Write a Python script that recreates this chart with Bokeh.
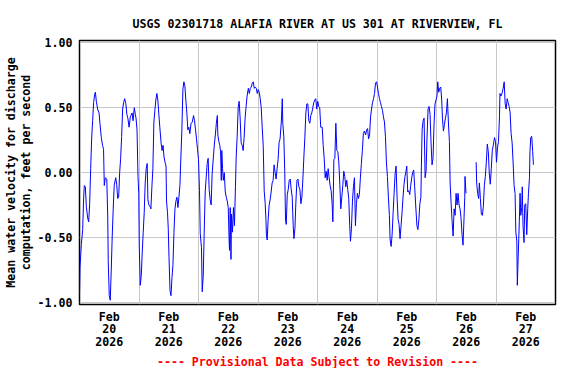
import math
from datetime import datetime, timedelta
from bokeh.plotting import figure
from bokeh.models import Range1d, FixedTicker, PrintfTickFormatter, ColumnDataSource, Title
from bokeh.embed import file_html
from bokeh.resources import INLINE

# ---------------- data ----------------
title_text = "USGS 02301718 ALAFIA RIVER AT US 301 AT RIVERVIEW, FL"
y_label = "Mean water velocity for discharge\ncomputation, feet per second"
footer_text = "---- Provisional Data Subject to Revision ----"

start_date = datetime(2026, 2, 20)
n_days = 8
day_tick_labels = ["Feb\n20\n2026", "Feb\n21\n2026", "Feb\n22\n2026", "Feb\n23\n2026",
                   "Feb\n24\n2026", "Feb\n25\n2026", "Feb\n26\n2026", "Feb\n27\n2026"]
y_ticks = [-1.0, -0.5, 0.0, 0.5, 1.0]
y_min, y_max = -1.018, 1.019

# hours since Feb 20 2026 00:00
hours = [
    0.0, 0.2, 0.74, 1.28, 1.68, 1.95, 2.35, 2.75, 3.29, 3.7, 4.1, 4.5, 4.9, 5.3, 5.7, 6.1, 6.4, 6.8,
    7.3, 7.9, 8.3, 8.8, 9.3, 9.7, 10.0, 10.4, 11.0, 11.4, 11.6, 12.0, 12.4, 12.8, 13.2, 13.6, 14.0,
    14.6, 15.0, 15.4, 15.8, 16.2, 16.6, 17.0, 17.4, 17.8, 18.2, 18.7, 19.1, 19.5, 20.0, 20.5, 21.2,
    21.6, 22.1, 22.5, 22.8, 23.2, 23.6, 23.9, 24.1, 24.5, 24.9, 25.3, 25.7, 26.1, 26.5, 26.9, 27.3,
    27.6, 28.0, 28.4, 28.8, 29.2, 29.6, 30.0, 30.4, 30.8, 31.2, 31.6, 32.0, 32.4, 32.9, 33.3, 33.7,
    34.1, 34.5, 34.9, 35.1, 35.5, 35.8, 36.1, 36.5, 36.9, 37.3, 37.7, 38.1, 38.5, 38.9, 39.3, 39.7,
    40.1, 40.5, 40.9, 41.3, 41.7, 42.1, 42.5, 42.9, 43.3, 43.7, 44.1, 44.5, 45.0, 45.5, 46.0, 46.4,
    46.8, 47.2,
    47.6, 48.0, 48.4, 48.7, 49.2, 49.5, 49.9, 50.3, 50.7, 51.1, 51.5, 51.9, 52.3, 52.7, 53.1, 53.5,
    54.0, 54.4, 54.8, 55.2, 55.6, 55.8, 56.2, 56.6, 56.9, 57.2, 57.4, 57.7, 58.0, 58.4, 58.8, 59.2,
    59.6, 60.0, 60.3, 60.5, 60.8, 61.1, 61.3, 61.7, 62.1, 62.5, 62.9, 63.2, 63.6, 64.0, 64.4, 64.8,
    65.2, 65.6, 66.0, 66.4, 66.8, 67.2, 67.6, 68.1, 68.5, 68.9, 69.3, 69.7, 70.1, 70.5, 70.9, 71.3,
    71.7, 72.1, 72.5, 72.9, 73.3, 73.7, 74.1, 74.5, 74.9, 75.2, 75.4, 75.7, 76.1, 76.5, 76.9, 77.3,
    77.7, 78.1, 78.5, 78.9, 79.3, 79.7, 80.1, 80.5, 80.9, 81.4, 81.8, 82.0, 82.4, 82.8, 83.1, 83.4,
    83.8, 84.2, 84.6, 85.0, 85.4, 85.8, 86.2, 86.5, 86.9, 87.3, 87.7, 88.1, 88.5, 88.9, 89.3, 89.7,
    90.1, 90.5, 90.9, 91.3, 91.7, 92.1, 92.5, 92.9, 93.3, 93.7, 94.1, 94.5, 94.9, 95.3,
    95.7, 96.1, 96.5, 96.9, 97.3, 97.9, 98.3, 98.7, 99.1, 99.5, 99.9, 100.3, 100.7, 101.1, 101.5,
    101.9, 102.2, 102.6, 103.0, 103.4, 103.8, 104.2, 104.6, 105.0, 105.4, 105.8, 106.2, 106.6, 107.0,
    107.4, 107.8, 108.2, 108.6, 109.0, 109.3, 109.7, 110.1, 110.5, 110.9, 111.3, 111.7, 112.1, 112.5,
    112.9, 113.3, 113.7, 114.1, 114.5, 114.9, 115.4, 115.8, 116.2, 116.6, 117.0, 117.4, 117.8, 118.2,
    118.6, 119.0, 119.4, 119.8, 120.2, 120.6, 121.0, 121.4, 121.8, 122.2, 122.6, 123.0, 123.4, 123.8,
    124.2, 124.6, 125.0, 125.3, 125.7, 126.1, 126.5, 126.9, 127.3, 127.7, 128.1, 128.5, 128.9, 129.3,
    129.7, 130.1, 130.5, 130.9, 131.3, 131.7, 132.0, 132.4, 132.8, 133.2, 133.6, 134.0, 134.4, 134.8,
    135.2, 135.6, 136.1, 136.5, 136.9, 137.3, 137.7, 137.9, 138.2, 138.6, 139.0, 139.4, 139.8, 140.2,
    140.6, 141.0, 141.4, 141.8, 142.2, 142.6, 143.0, 143.4, 143.8,
    144.2, 144.5, 144.9, 145.3, 145.7, 146.1, 146.4, 146.8, 147.2, 147.6, 148.0, 148.4, 148.8, 149.2,
    149.5, 149.9, 150.3, 150.7, 151.1, 151.5, 151.9, 152.3, 152.7, 153.1, 153.5, 153.9, 154.3, 154.7,
    155.1, 155.4, 155.5, 155.9, 157.9,
    160.0, 160.2, 160.6, 161.0, 161.3, 161.7, 162.1, 162.5, 162.9, 163.3, 163.7, 164.1, 164.5, 164.9,
    165.3, 165.7, 166.1, 166.5, 166.9, 167.4, 167.8, 168.2, 168.6, 169.0, 169.4, 169.6, 170.0, 170.4,
    170.9, 171.3, 171.7, 172.1, 172.5, 172.9, 173.3, 173.7, 174.1, 174.5, 174.9, 175.3, 175.7, 176.0,
    176.4, 176.6, 177.0, 177.4, 177.7, 178.0, 178.4, 178.6, 178.9, 179.3, 179.6, 180.0, 180.4, 180.8,
    181.1, 181.5, 181.7, 182.0, 182.4, 182.8, 183.1,
]

velocity = [
    -0.94, -0.73, -0.555, -0.44, -0.19, -0.10, -0.11, -0.26, -0.35, -0.38, -0.24, 0.03, 0.26, 0.40, 0.54, 0.60, 0.62, 0.55,
    0.49, 0.46, 0.37, 0.27, 0.21, 0.18, -0.10, -0.04, -0.05, -0.35, -0.69, -0.95, -0.985, -0.76, -0.49, -0.28, -0.10,
    -0.04, -0.09, -0.20, -0.19, 0.0, 0.11, 0.28, 0.49, 0.54, 0.57, 0.53, 0.45, 0.42, 0.35, 0.43, 0.46,
    0.40, 0.50, 0.45, 0.42, 0.33, -0.03, -0.16, -0.56, -0.87, -0.80, -0.62, -0.46, -0.31, -0.08, 0.03, 0.07,
    -0.21, -0.25, -0.26, -0.28, -0.11, 0.03, 0.39, 0.48, 0.56, 0.61, 0.56, 0.45, 0.35, 0.23, 0.17, 0.21,
    0.12, 0.08, 0.05, -0.22, -0.31, -0.43, -0.65, -0.91, -0.95, -0.81, -0.71, -0.46, -0.28, -0.22, -0.19, -0.27,
    -0.19, -0.10, 0.12, 0.33, 0.64, 0.70, 0.67, 0.56, 0.46, 0.33, 0.35, 0.30, 0.38, 0.39, 0.44, 0.40,
    0.33, 0.26,
    0.18, 0.10, -0.14, -0.47, -0.58, -0.92, -0.80, -0.46, -0.15, -0.04, 0.07, 0.11, -0.13, -0.21, -0.25, -0.01,
    0.12, 0.22, 0.29, 0.38, 0.44, 0.29, 0.24, 0.21, 0.16, -0.06, 0.17, 0.03, -0.06, 0.0, -0.15, -0.19,
    -0.22, -0.27, -0.49, -0.60, -0.27, -0.67, -0.32, -0.46, -0.27, -0.41, -0.11, 0.12, 0.28, 0.50, 0.55, 0.42,
    0.23, 0.21, 0.17, 0.27, 0.42, 0.51, 0.59, 0.65, 0.61, 0.65, 0.66, 0.69, 0.70, 0.65, 0.66, 0.65,
    0.61, 0.64, 0.62, 0.57, 0.50, 0.35, 0.21, -0.14, -0.24, -0.36, -0.48, -0.52, -0.36, -0.25, -0.21, -0.15,
    -0.08, -0.06, 0.06, 0.0, -0.05, 0.03, 0.10, 0.23, 0.26, 0.39, 0.57, 0.38, 0.28, 0.0, -0.37, -0.40,
    -0.17, -0.13, -0.06, -0.05, -0.13, -0.19, -0.41, -0.51, -0.43, -0.22, -0.06, -0.05, -0.11, -0.13, -0.24, -0.19,
    -0.05, 0.12, 0.27, 0.46, 0.53, 0.53, 0.40, 0.38, 0.44, 0.46, 0.50, 0.54, 0.56, 0.57,
    0.49, 0.55, 0.51, 0.50, 0.35, 0.35, 0.21, 0.11, -0.04, 0.01, -0.06, 0.03, -0.04, -0.10, -0.14,
    -0.24, -0.38, 0.10, 0.11, 0.38, 0.17, 0.16, 0.08, -0.09, -0.28, -0.19, -0.10, 0.01, -0.03,
    -0.11, -0.06, -0.13, -0.20, -0.41, -0.53, -0.43, -0.22, -0.11, -0.04, -0.41, -0.24, -0.16, -0.20,
    -0.17, -0.04, 0.07, 0.17, 0.30, 0.32, 0.29, 0.33, 0.34, 0.26, 0.29, 0.43, 0.49, 0.54,
    0.57, 0.61, 0.69, 0.70, 0.66, 0.61, 0.57, 0.54, 0.51, 0.48, 0.43, 0.39, 0.28, 0.08,
    -0.03, -0.19, -0.33, -0.52, -0.57, -0.48, -0.31, -0.16, -0.01, 0.05, -0.19, -0.36, -0.40, -0.51,
    -0.41, -0.31, -0.19, -0.09, -0.03, 0.01, 0.05, -0.15, -0.14, -0.17, -0.10, -0.04, 0.0, 0.02,
    -0.11, -0.25, -0.41, -0.44, -0.36, -0.24, -0.19, 0.05, 0.33, 0.40, 0.42, -0.04, 0.01, 0.29,
    0.49, 0.51, 0.45, 0.23, 0.06, 0.11, 0.37, 0.53, 0.56,
    0.59, 0.70, 0.62, 0.65, 0.66, 0.56, 0.42, 0.32, 0.37, 0.42, 0.46, 0.57, 0.39, 0.24,
    -0.08, -0.24, -0.38, -0.49, -0.28, -0.33, -0.16, -0.25, -0.16, -0.25, -0.28, -0.35, -0.48, -0.56,
    -0.35, -0.19, -0.03, -0.16, float("nan"),
    0.08, -0.08, -0.16, -0.20, -0.08, -0.20, -0.32, -0.33, -0.26, -0.10, -0.03, 0.08, 0.22, 0.16,
    -0.01, -0.09, 0.03, 0.17, 0.21, 0.27, 0.24, 0.08, 0.19, 0.24, 0.43, 0.61, 0.59, 0.61,
    0.65, 0.70, 0.53, 0.49, 0.57, 0.54, 0.51, 0.46, 0.30, 0.23, 0.08, -0.10, -0.16, -0.46,
    -0.53, -0.87, -0.62, -0.38, -0.16, -0.33, -0.27, -0.11, -0.41, -0.54, -0.25, -0.24, -0.48, -0.28,
    -0.16, -0.04, 0.16, 0.27, 0.28, 0.16, 0.06,
]

# ---------------- build ----------------
EPOCH = datetime(1970, 1, 1)


def to_ms(d):
    return (d - EPOCH).total_seconds() * 1000.0


times = [start_date + timedelta(hours=h) for h in hours]
source = ColumnDataSource(data=dict(t=times, v=velocity))

x_start = start_date
x_end = start_date + timedelta(days=n_days)
label_ticks = [to_ms(start_date + timedelta(days=i, hours=12)) for i in range(n_days)]
grid_ticks = [to_ms(start_date + timedelta(days=i)) for i in range(1, n_days)]

FONT = "DejaVu Sans Mono"
FS = "11.6px"

p = figure(width=560, height=368, x_axis_type="datetime",
           x_range=Range1d(to_ms(x_start), to_ms(x_end)),
           y_range=Range1d(y_min, y_max),
           output_backend="svg", toolbar_location=None,
           min_border_left=78, min_border_right=5, min_border_top=40, min_border_bottom=58)

p.line(x="t", y="v", source=source, line_color="#0000FF", line_width=1)

p.title.text = title_text
p.title.align = "center"
p.title.text_font = FONT
p.title.text_font_size = FS
p.title.text_font_style = "bold"
p.title.text_color = "black"
p.title.standoff = 19

p.outline_line_color = "black"
p.outline_line_width = 1.5
p.background_fill_color = "white"
p.border_fill_color = "white"

# axes
xa = p.xaxis[0]
xa.ticker = FixedTicker(ticks=label_ticks)
xa.major_label_overrides = {t: lab for t, lab in zip(label_ticks, day_tick_labels)}
xa.axis_line_color = None
xa.major_tick_line_color = None
xa.minor_tick_line_color = None
xa.major_tick_out = 0
xa.major_tick_in = 0
xa.major_label_standoff = 5
xa.major_label_text_font = FONT
xa.major_label_text_font_size = FS
xa.major_label_text_font_style = "bold"
xa.major_label_text_color = "black"
xa.major_label_text_line_height = 0.92

ya = p.yaxis[0]
ya.ticker = FixedTicker(ticks=y_ticks)
ya.formatter = PrintfTickFormatter(format="%.2f")
ya.axis_line_color = None
ya.major_tick_line_color = None
ya.minor_tick_line_color = None
ya.major_tick_out = 0
ya.major_tick_in = 0
ya.major_label_standoff = 7
ya.major_label_text_font = FONT
ya.major_label_text_font_size = FS
ya.major_label_text_font_style = "bold"
ya.major_label_text_color = "black"
ya.axis_label = y_label
ya.axis_label_text_font = FONT
ya.axis_label_text_font_size = FS
ya.axis_label_text_font_style = "bold"
ya.axis_label_text_color = "black"
ya.axis_label_standoff = 2
ya.axis_label_text_line_height = 1.05

# grids
p.xgrid.ticker = FixedTicker(ticks=grid_ticks)
p.xgrid.grid_line_color = "#c8c8c8"
p.xgrid.grid_line_width = 1
p.ygrid.grid_line_color = "#c8c8c8"
p.ygrid.grid_line_width = 1

footer = Title(text=footer_text, align="center", text_font=FONT, text_font_size=FS,
               text_font_style="bold", text_color="#FF0000", standoff=0)
p.add_layout(footer, "below")

open("out.html", "w").write(file_html(p, INLINE))
